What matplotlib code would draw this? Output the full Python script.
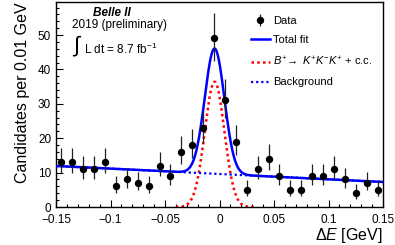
import numpy as np
import matplotlib
matplotlib.use('Agg')
import matplotlib.pyplot as plt
from matplotlib.ticker import MultipleLocator, FuncFormatter

plt.rcParams['font.family'] = ['Liberation Sans', 'DejaVu Sans']
plt.rcParams['mathtext.fontset'] = 'custom'
plt.rcParams['mathtext.rm'] = 'Liberation Sans'
plt.rcParams['mathtext.it'] = 'Liberation Sans:italic'
plt.rcParams['mathtext.bf'] = 'Liberation Sans:bold'

# bin centres of Delta E (GeV) and counts per bin
de_bins = [-0.145, -0.135, -0.125, -0.115, -0.105, -0.095, -0.085, -0.075, -0.065, -0.055,
           -0.045, -0.035, -0.025, -0.015, -0.005, 0.005, 0.015, 0.025, 0.035, 0.045,
           0.055, 0.065, 0.075, 0.085, 0.095, 0.105, 0.115, 0.125, 0.135, 0.145]
counts = [13, 13, 11, 11, 13, 6, 8, 7, 6, 12,
          9, 16, 18, 23, 49, 31, 19, 5, 11, 14,
          9, 5, 5, 9, 9, 11, 8, 4, 7, 5]

# fit model parameters (gaussian signal + linear background)
sig_amp = 36.4
sig_mean = -0.0045
sig_sigma = 0.0090
bkg_c0 = 9.6
bkg_c1 = -15.5

n = np.array(counts, dtype=float)
err_lo = np.sqrt(n + 0.25) - 0.5
err_hi = np.sqrt(n + 0.25) + 0.5

x = np.linspace(-0.15, 0.15, 600)
bkg = bkg_c0 + bkg_c1 * x
sig = sig_amp * np.exp(-0.5 * ((x - sig_mean) / sig_sigma) ** 2)
total = sig + bkg
xs = np.linspace(-0.04, 0.032, 200)
sig_s = sig_amp * np.exp(-0.5 * ((xs - sig_mean) / sig_sigma) ** 2)

fig = plt.figure(figsize=(3.95, 2.45), dpi=100)
ax = fig.add_axes([56 / 395, 1 - 207 / 245, 327 / 395, 205 / 245])

ax.plot(x, total, color='#0000ff', lw=1.8, label='Total fit', zorder=3)
ax.plot(xs, sig_s, color='#ff0000', lw=1.8, ls=(0, (1, 1.3)),
        label=r'$B^{+}\!\rightarrow\ K^{+}K^{-}K^{+}$ + c.c.', zorder=2)
ax.plot(x, bkg, color='#0000ff', lw=1.6, ls=(0, (1, 1.3)), label='Background', zorder=2)
ax.errorbar(de_bins, counts, yerr=[err_lo, err_hi], fmt='o', color='black',
            ms=4.3, elinewidth=0.9, ecolor='#222222', capsize=0, label='Data', zorder=4)

ax.set_xlim(-0.15, 0.15)
ax.set_ylim(0, 59.6)

ax.xaxis.set_major_locator(MultipleLocator(0.05))
ax.xaxis.set_minor_locator(MultipleLocator(0.01))
ax.yaxis.set_major_locator(MultipleLocator(10))
ax.yaxis.set_minor_locator(MultipleLocator(2))
ax.xaxis.set_major_formatter(FuncFormatter(
    lambda v, _: '0' if abs(v) < 1e-9 else ('%g' % round(v, 3)).replace('-', '\u2212')))
ax.tick_params(which='both', direction='in', top=False, right=False, labelsize=8.5)
ax.tick_params(which='major', length=5, width=0.8)
ax.tick_params(which='minor', length=2.5, width=0.8)
ax.tick_params(axis='x', pad=5)
for s in ax.spines.values():
    s.set_linewidth(1.0)

ax.set_ylabel('Candidates per 0.01 GeV', fontsize=11.5, loc='top', labelpad=6)
ax.set_xlabel(r'$\Delta E$ [GeV]', fontsize=11.5, loc='right', labelpad=0)

ax.text(0.113, 0.975, 'Belle II', transform=ax.transAxes, fontsize=8.5,
        fontweight='bold', fontstyle='italic', ha='left', va='top')
ax.text(0.049, 0.915, '2019 (preliminary)', transform=ax.transAxes, fontsize=8.5,
        ha='left', va='top')
ax.text(0.048, 0.845, r'$\int$', transform=ax.transAxes, fontsize=16, ha='left', va='top',
        family=['DejaVu Sans'])
ax.text(0.085, 0.77, r'L dt = 8.7 fb$^{-1}$', transform=ax.transAxes, fontsize=8.5,
        ha='left', va='center')

handles, labels = ax.get_legend_handles_labels()
order = [3, 0, 1, 2]
ax.legend([handles[i] for i in order], [labels[i] for i in order], loc='upper right',
          frameon=False, fontsize=8, handlelength=1.7, handletextpad=0.3, labelspacing=0.85,
          bbox_to_anchor=(1.01, 1.0), borderaxespad=0.85)

fig.savefig('out.png', dpi=100)
